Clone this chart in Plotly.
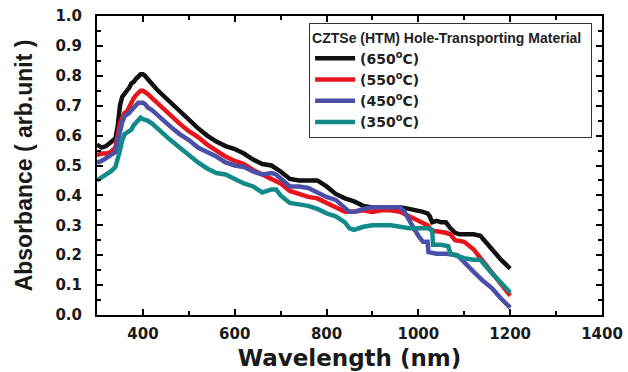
import plotly.graph_objects as go

# ---------------- data ----------------
wl_650 = [300, 310, 320, 330, 340, 345, 350, 355, 360, 365, 370, 375, 380, 385, 390, 395, 400, 405, 410,
          420, 430, 440, 460, 480, 500, 520, 540, 560, 580, 600, 620, 640, 660, 680, 700, 720, 740, 760,
          780, 800, 820, 840, 860, 880, 900, 920, 940, 960, 980, 1000, 1010, 1020, 1025, 1030, 1040, 1050,
          1060, 1070, 1080, 1090, 1100, 1120, 1135, 1160, 1180, 1200]
abs_650 = [0.57, 0.56, 0.565, 0.58, 0.59, 0.63, 0.70, 0.73, 0.74, 0.745, 0.76, 0.775, 0.78, 0.79, 0.80, 0.805,
           0.805, 0.80, 0.79, 0.77, 0.755, 0.74, 0.71, 0.68, 0.65, 0.625, 0.60, 0.58, 0.565, 0.555, 0.54,
           0.52, 0.505, 0.50, 0.48, 0.455, 0.45, 0.45, 0.45, 0.43, 0.405, 0.39, 0.38, 0.365, 0.36, 0.36,
           0.36, 0.36, 0.355, 0.35, 0.345, 0.34, 0.33, 0.31, 0.315, 0.31, 0.31, 0.29, 0.275, 0.27, 0.27,
           0.27, 0.265, 0.22, 0.185, 0.155]

wl_550 = [300, 310, 320, 330, 340, 345, 350, 355, 360, 365, 370, 375, 380, 385, 390, 395, 400, 405, 410,
          420, 430, 440, 460, 480, 500, 520, 540, 560, 580, 600, 620, 640, 660, 680, 700, 720, 740, 760,
          780, 800, 820, 840, 860, 880, 900, 920, 940, 960, 980, 1000, 1010, 1020, 1030, 1040, 1060, 1070,
          1080, 1100, 1120, 1140, 1160, 1180, 1200]
abs_550 = [0.535, 0.54, 0.54, 0.545, 0.56, 0.60, 0.64, 0.66, 0.675, 0.68, 0.695, 0.715, 0.725, 0.735, 0.745,
           0.75, 0.75, 0.745, 0.74, 0.725, 0.71, 0.695, 0.665, 0.64, 0.615, 0.595, 0.57, 0.55, 0.53, 0.515,
           0.505, 0.485, 0.47, 0.455, 0.44, 0.415, 0.405, 0.395, 0.39, 0.375, 0.36, 0.345, 0.345, 0.35,
           0.345, 0.35, 0.35, 0.345, 0.33, 0.315, 0.31, 0.30, 0.28, 0.28, 0.275, 0.27, 0.25, 0.245, 0.22,
           0.18, 0.14, 0.105, 0.065]

wl_450 = [300, 310, 320, 330, 340, 345, 350, 355, 360, 365, 370, 375, 380, 385, 390, 395, 400, 405, 410,
          420, 430, 440, 460, 480, 500, 520, 540, 560, 580, 600, 620, 640, 660, 680, 690, 700, 720, 740,
          760, 780, 800, 820, 840, 850, 860, 880, 900, 920, 940, 960, 970, 980, 990, 1000, 1010, 1020,
          1022, 1040, 1060, 1085, 1100, 1120, 1140, 1160, 1180, 1200]
abs_450 = [0.51, 0.515, 0.525, 0.535, 0.545, 0.58, 0.62, 0.645, 0.665, 0.67, 0.675, 0.685, 0.695, 0.705, 0.71,
           0.71, 0.71, 0.705, 0.695, 0.685, 0.67, 0.655, 0.63, 0.605, 0.585, 0.56, 0.545, 0.53, 0.51, 0.50,
           0.495, 0.48, 0.47, 0.475, 0.47, 0.455, 0.43, 0.43, 0.425, 0.41, 0.395, 0.385, 0.355, 0.345,
           0.345, 0.355, 0.36, 0.36, 0.36, 0.36, 0.345, 0.315, 0.29, 0.265, 0.245, 0.245, 0.21, 0.205,
           0.205, 0.20, 0.175, 0.145, 0.115, 0.09, 0.055, 0.025]

wl_350 = [300, 310, 320, 330, 340, 345, 350, 355, 360, 365, 370, 375, 380, 385, 390, 395, 400, 410, 420,
          430, 440, 460, 480, 500, 520, 540, 560, 580, 600, 620, 640, 660, 680, 690, 700, 720, 740, 760,
          780, 800, 820, 840, 850, 860, 880, 900, 920, 940, 960, 980, 1000, 1020, 1030, 1032, 1050, 1065,
          1070, 1080, 1100, 1120, 1135, 1160, 1180, 1200]
abs_350 = [0.45, 0.46, 0.47, 0.48, 0.495, 0.52, 0.55, 0.585, 0.605, 0.61, 0.615, 0.62, 0.635, 0.645, 0.655,
           0.66, 0.655, 0.65, 0.64, 0.625, 0.61, 0.585, 0.56, 0.535, 0.51, 0.49, 0.475, 0.47, 0.455, 0.44,
           0.43, 0.41, 0.42, 0.42, 0.40, 0.375, 0.37, 0.365, 0.355, 0.34, 0.33, 0.31, 0.29, 0.285, 0.295,
           0.30, 0.30, 0.30, 0.295, 0.29, 0.29, 0.29, 0.285, 0.235, 0.235, 0.23, 0.205, 0.20, 0.19, 0.185,
           0.185, 0.14, 0.11, 0.075]

series_names = ["(650<sup>o</sup>C)", "(550<sup>o</sup>C)", "(450<sup>o</sup>C)", "(350<sup>o</sup>C)"]
series_x = [wl_650, wl_550, wl_450, wl_350]
series_y = [abs_650, abs_550, abs_450, abs_350]
colors = ["#111111", "#e8141c", "#4a4fa8", "#138a8a"]

x_tickvals = [400, 600, 800, 1000, 1200, 1400]

# ---------------- figure ----------------
fig = go.Figure()
for name, xs, ys, c in zip(series_names, series_x, series_y, colors):
    fig.add_trace(go.Scatter(x=xs, y=ys, mode="lines", name=name,
                             line=dict(color=c, width=4.5)))

axis_common = dict(showline=True, linecolor="black", linewidth=2, mirror="allticks",
                   ticks="inside", tickcolor="black", tickwidth=1.5, ticklen=6,
                   showgrid=False, zeroline=False, automargin=False,
                   tickfont=dict(family="DejaVu Sans", size=15, color="#1a1a1a", weight="bold"))

fig.update_xaxes(range=[300, 1400], tickvals=x_tickvals, ticklabelstandoff=4,
                 minor=dict(dtick=100, tick0=0, ticks="inside", ticklen=4, tickwidth=1.5, tickcolor="black"),
                 title=dict(text="Wavelength (nm)", standoff=8,
                            font=dict(family="DejaVu Sans", size=23, color="#1a1a1a", weight="bold")),
                 **axis_common)
fig.update_yaxes(range=[0, 1.0], dtick=0.1, tick0=0, tickformat=".1f", ticklabelstandoff=10,
                 minor=dict(dtick=0.05, ticks="inside", ticklen=4, tickwidth=1.5, tickcolor="black"),
                 title=dict(text="Absorbance ( arb.unit )", standoff=16,
                            font=dict(family="Liberation Sans", size=23, color="#1a1a1a", weight="bold")),
                 **axis_common)

fig.update_layout(
    width=628, height=372,
    margin=dict(l=97, r=26, t=16, b=57, autoexpand=False),
    paper_bgcolor="white", plot_bgcolor="white",
    showlegend=True,
    legend=dict(x=0.42, y=0.975, xanchor="left", yanchor="top",
                bgcolor="white", bordercolor="#333", borderwidth=1,
                title=dict(text="CZTSe (HTM) Hole-Transporting Material  ", side="top",
                           font=dict(family="Liberation Sans", size=14, color="#222", weight="bold")),
                font=dict(family="DejaVu Sans", size=14, color="#222", weight="bold"),
                tracegroupgap=0, itemwidth=40),
)

fig.write_html("out.html")
